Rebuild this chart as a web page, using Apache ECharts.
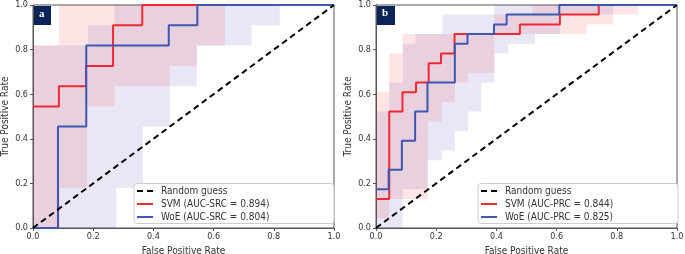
<!DOCTYPE html>
<html>
<head>
<meta charset="utf-8">
<script src="https://cdn.jsdelivr.net/npm/echarts@6/dist/echarts.min.js"></script>
<style>
  html, body { margin: 0; padding: 0; background: #fff; }
  #main { width: 685px; height: 254px; }
</style>
</head>
<body>
<div id="main"></div>
<script>
// panel a - mean curves (step points, value holds until next x)
var aSvmX = [0, 0.086, 0.176, 0.266, 0.363, 1];
var aSvmY = [0.545, 0.636, 0.727, 0.909, 1, 1];
var aWoeX = [0, 0.083, 0.177, 0.451, 0.546, 1];
var aWoeY = [0, 0.455, 0.818, 0.909, 1, 1];
// panel a - std bands
var aSvmUpX = [0, 0.086, 1];
var aSvmUpY = [0.818, 1, 1];
var aSvmLoX = [0, 0.089, 0.18, 0.271, 0.454, 0.544, 0.638, 1];
var aSvmLoY = [0, 0.18, 0.545, 0.636, 0.727, 0.818, 1, 1];
var aWoeUpX = [0, 0.183, 0.271, 1];
var aWoeUpY = [0.818, 0.909, 1, 1];
var aWoeLoX = [0, 0.277, 0.365, 0.454, 0.544, 0.726, 0.82, 1];
var aWoeLoY = [0, 0.18, 0.454, 0.636, 0.818, 0.909, 1, 1];

// panel b - mean curves
var bSvmX = [0, 0.044, 0.088, 0.133, 0.175, 0.216, 0.261, 0.478, 0.611, 0.74, 1];
var bSvmY = [0.130, 0.522, 0.609, 0.652, 0.739, 0.783, 0.870, 0.913, 0.957, 1, 1];
var bWoeX = [0, 0.042, 0.086, 0.13, 0.171, 0.262, 0.304, 0.392, 0.434, 0.609, 1];
var bWoeY = [0.174, 0.261, 0.391, 0.522, 0.652, 0.826, 0.870, 0.913, 0.957, 1, 1];
// panel b - std bands
var bSvmUpX = [0, 0.044, 0.089, 0.393, 0.52, 1];
var bSvmUpY = [0.609, 0.783, 0.870, 0.957, 1, 1];
var bSvmLoX = [0, 0.044, 0.172, 0.218, 0.262, 0.306, 0.393, 0.70, 0.788, 0.87, 1];
var bSvmLoY = [0.043, 0.130, 0.478, 0.565, 0.652, 0.696, 0.870, 0.913, 0.957, 1, 1];
var bWoeUpX = [0, 0.044, 0.089, 0.131, 0.221, 0.393, 1];
var bWoeUpY = [0.522, 0.652, 0.826, 0.870, 0.957, 1, 1];
var bWoeLoX = [0, 0.088, 0.172, 0.218, 0.262, 0.306, 0.35, 0.393, 0.44, 0.528, 0.611, 0.788, 1];
var bWoeLoY = [0, 0.174, 0.304, 0.348, 0.435, 0.522, 0.652, 0.783, 0.826, 0.870, 0.957, 1, 1];

var names = {
  guess: "Random guess",
  aSvm: "SVM (AUC-SRC = 0.894)",
  aWoe: "WoE (AUC-SRC = 0.804)",
  bSvm: "SVM (AUC-PRC = 0.844)",
  bWoe: "WoE (AUC-PRC = 0.825)"
};

var RED = "#ee2a30";
var BLUE = "#3d57b3";
var FONT = "'DejaVu Sans Condensed', 'Liberation Sans Narrow', 'Liberation Sans', sans-serif";
var DASH_ICON = "path://M0,0h6v2h-6z M10,0h6v2h-6z";

function zip(xs, ys) {
  return xs.map(function (x, i) { return [x, ys[i]]; });
}
function stepPts(xs, ys) {
  var p = [];
  for (var i = 0; i < xs.length - 1; i++) {
    p.push([xs[i], ys[i]]);
    p.push([xs[i + 1], ys[i]]);
  }
  return p;
}

function bandSeries(idx, upX, upY, loX, loY, fill) {
  var poly = stepPts(upX, upY).concat(stepPts(loX, loY).reverse());
  return {
    type: "custom",
    xAxisIndex: idx,
    yAxisIndex: idx,
    silent: true,
    z: 1,
    data: [[0, 0]],
    renderItem: function (params, api) {
      return {
        type: "polygon",
        shape: { points: poly.map(function (p) { return api.coord(p); }) },
        style: { fill: fill }
      };
    }
  };
}

function lineSeries(idx, name, xs, ys, color) {
  return {
    type: "line",
    name: name,
    xAxisIndex: idx,
    yAxisIndex: idx,
    step: "end",
    symbol: "none",
    z: 3,
    lineStyle: { color: color, width: 2 },
    itemStyle: { color: color },
    data: zip(xs, ys)
  };
}

function guessSeries(idx) {
  return {
    type: "line",
    name: names.guess,
    xAxisIndex: idx,
    yAxisIndex: idx,
    symbol: "none",
    z: 4,
    lineStyle: { color: "#000", width: 2, type: [6, 4] },
    itemStyle: { color: "#000" },
    data: [[0, 0], [1, 1]]
  };
}

function xAxisOf(idx) {
  return {
    gridIndex: idx,
    type: "value",
    min: 0,
    max: 1,
    interval: 0.2,
    name: "False Positive Rate",
    nameLocation: "middle",
    nameGap: 18,
    nameTextStyle: { fontFamily: FONT, fontSize: 10, color: "#333" },
    axisLine: { lineStyle: { color: "#555", width: 1 } },
    axisTick: { length: 3, lineStyle: { color: "#555" } },
    axisLabel: { fontFamily: FONT, fontSize: 9, color: "#333", margin: 4,
      formatter: function (v) { return v.toFixed(1); } },
    splitLine: { show: false }
  };
}
function yAxisOf(idx) {
  return {
    gridIndex: idx,
    type: "value",
    min: 0,
    max: 1,
    interval: 0.2,
    name: "True Positive Rate",
    nameLocation: "middle",
    nameGap: 23,
    nameTextStyle: { fontFamily: FONT, fontSize: 10, color: "#333" },
    axisLine: { lineStyle: { color: "#555", width: 1 } },
    axisTick: { length: 3, lineStyle: { color: "#555" } },
    axisLabel: { fontFamily: FONT, fontSize: 9, color: "#333", margin: 5,
      formatter: function (v) { return v.toFixed(1); } },
    splitLine: { show: false }
  };
}
function legendOf(left, svmName, woeName) {
  return {
    left: left + 4,
    top: 185,
    orient: "vertical",
    data: [
      { name: names.guess, icon: DASH_ICON },
      { name: svmName, icon: "rect" },
      { name: woeName, icon: "rect" }
    ],
    itemWidth: 16,
    itemHeight: 2,
    itemGap: 1,
    padding: 0,
    z: 11,
    selectedMode: false,
    textStyle: { fontFamily: FONT, fontSize: 10, color: "#333", padding: [0, 0, 0, 3], height: 12, lineHeight: 12 }
  };
}
function legendBox(left) {
  return { type: "rect", left: left, top: 183, z: 10,
    shape: { width: 200, height: 40, r: 3 },
    style: { fill: "#fff", stroke: "#ccc", lineWidth: 1 } };
}

var chart = echarts.init(document.getElementById("main"), null, { renderer: "canvas" });

var option = {
  backgroundColor: "#fff",
  animation: false,
  grid: [
    { left: 33, top: 5, width: 301, height: 223, outerBoundsMode: "none",
      show: true, borderColor: "#555", borderWidth: 1 },
    { left: 376, top: 5, width: 301, height: 223, outerBoundsMode: "none",
      show: true, borderColor: "#555", borderWidth: 1 }
  ],
  xAxis: [xAxisOf(0), xAxisOf(1)],
  yAxis: [yAxisOf(0), yAxisOf(1)],
  legend: [
    legendOf(133, names.aSvm, names.aWoe),
    legendOf(477, names.bSvm, names.bWoe)
  ],
  graphic: [
    legendBox(133.5),
    legendBox(477.5),
    { type: "rect", left: 34, top: 6, shape: { width: 17, height: 19 }, style: { fill: "#0b2558" }, z: 12 },
    { type: "text", left: 39, top: 9, style: { text: "a", fill: "#fff", font: "bold 11px 'Liberation Serif'" }, z: 13 },
    { type: "rect", left: 377, top: 6, shape: { width: 18, height: 19 }, style: { fill: "#0b2558" }, z: 12 },
    { type: "text", left: 382, top: 8, style: { text: "b", fill: "#fff", font: "bold 11px 'Liberation Serif'" }, z: 13 }
  ],
  series: [
    bandSeries(0, aSvmUpX, aSvmUpY, aSvmLoX, aSvmLoY, "rgba(250,40,40,0.12)"),
    bandSeries(0, aWoeUpX, aWoeUpY, aWoeLoX, aWoeLoY, "rgba(70,60,170,0.12)"),
    lineSeries(0, names.aSvm, aSvmX, aSvmY, RED),
    lineSeries(0, names.aWoe, aWoeX, aWoeY, BLUE),
    guessSeries(0),
    bandSeries(1, bSvmUpX, bSvmUpY, bSvmLoX, bSvmLoY, "rgba(250,40,40,0.12)"),
    bandSeries(1, bWoeUpX, bWoeUpY, bWoeLoX, bWoeLoY, "rgba(70,60,170,0.12)"),
    lineSeries(1, names.bSvm, bSvmX, bSvmY, RED),
    lineSeries(1, names.bWoe, bWoeX, bWoeY, BLUE),
    guessSeries(1)
  ]
};
chart.setOption(option);
</script>
</body>
</html>
